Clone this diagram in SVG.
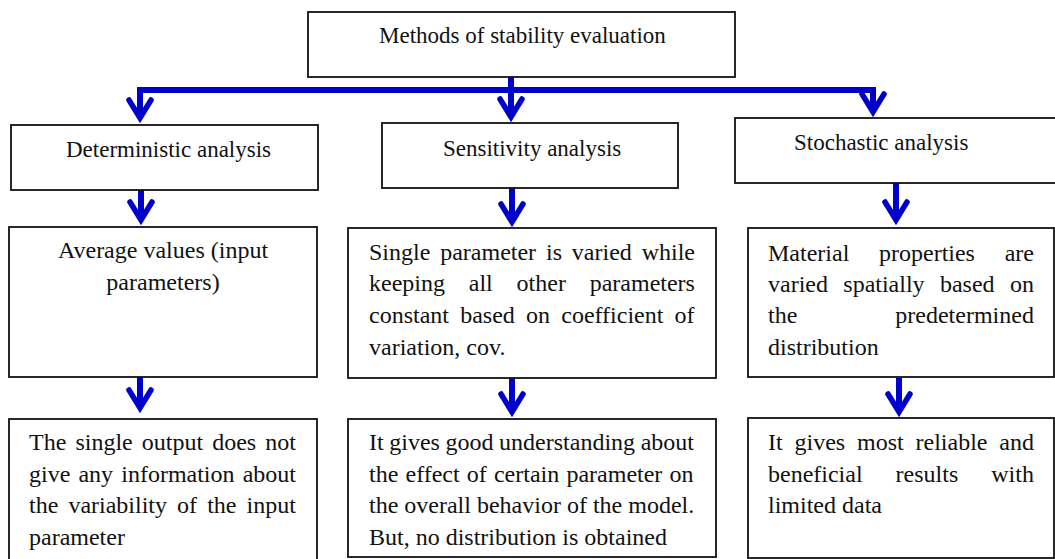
<svg xmlns="http://www.w3.org/2000/svg" width="1055" height="559" viewBox="0 0 1055 559">
<style>
.box{fill:#fff;stroke:#111;stroke-width:1.8}
.t{font-family:"Liberation Serif","Times New Roman",serif;font-size:24px;fill:#111;font-variant-ligatures:none}
.h{font-size:23px}
.c{fill:none;stroke:#0000cc;stroke-width:6;stroke-linejoin:miter}
</style>
<defs>
<marker id="ah" markerUnits="userSpaceOnUse" orient="auto" refX="0" refY="0" markerWidth="40" markerHeight="40" overflow="visible">
<path d="M-18,-11 L0,0 L-18,11" fill="none" stroke="#0000cc" stroke-width="5.5" stroke-linecap="round" stroke-linejoin="miter"/>
</marker>
</defs>
<rect width="1055" height="559" fill="#fff"/>
<g id="connectors">
<path class="c" d="M511,77 V117" marker-end="url(#ah)"/>
<path class="c" d="M511,90 H140 V118" marker-end="url(#ah)"/>
<path class="c" d="M511,90 H873 V112" marker-end="url(#ah)"/>
<path class="c" d="M141,190 V220" marker-end="url(#ah)"/>
<path class="c" d="M512,188 V222" marker-end="url(#ah)"/>
<path class="c" d="M896,183 V220" marker-end="url(#ah)"/>
<path class="c" d="M140,377 V408" marker-end="url(#ah)"/>
<path class="c" d="M512,378 V412" marker-end="url(#ah)"/>
<path class="c" d="M899,378 V412" marker-end="url(#ah)"/>
</g>
<g id="root">
<rect class="box" x="308" y="12" width="427" height="65"/>
<text class="t h" x="379" y="43">Methods of stability evaluation</text>
</g>
<g id="deterministic">
<rect class="box" x="11" y="125" width="307" height="65"/>
<text class="t h" x="66" y="157">Deterministic analysis</text>
</g>
<g id="sensitivity">
<rect class="box" x="382" y="123" width="296" height="65"/>
<text class="t h" x="443" y="156">Sensitivity analysis</text>
</g>
<g id="stochastic">
<rect class="box" x="735" y="118" width="330" height="65"/>
<text class="t h" x="794" y="150">Stochastic analysis</text>
</g>
<g id="det-input">
<rect class="box" x="9" y="227" width="308" height="150"/>
<text class="t" text-anchor="middle"><tspan x="163" y="258">Average values (input</tspan><tspan x="163" y="290">parameters)</tspan></text>
</g>
<g id="sens-input">
<rect class="box" x="348" y="228" width="368" height="150"/>
<text class="t"><tspan x="369" y="260" word-spacing="3.85">Single parameter is varied while</tspan><tspan x="369" y="291" word-spacing="17.8">keeping all other parameters</tspan><tspan x="369" y="323" word-spacing="5.2">constant based on coefficient of</tspan><tspan x="369" y="355">variation, cov.</tspan></text>
</g>
<g id="stoch-input">
<rect class="box" x="748" y="228" width="306" height="149"/>
<text class="t"><tspan x="768" y="261" word-spacing="23.7">Material properties are</tspan><tspan x="768" y="292" word-spacing="9.33">varied spatially based on</tspan><tspan x="768" y="323" word-spacing="92">the predetermined</tspan><tspan x="768" y="355">distribution</tspan></text>
</g>
<g id="det-output">
<rect class="box" x="9" y="419" width="308" height="145"/>
<text class="t"><tspan x="29" y="450" word-spacing="3.08">The single output does not</tspan><tspan x="29" y="482" word-spacing="2.13">give any information about</tspan><tspan x="29" y="513" word-spacing="4.08">the variability of the input</tspan><tspan x="29" y="545">parameter</tspan></text>
</g>
<g id="sens-output">
<rect class="box" x="348" y="419" width="368" height="138"/>
<text class="t"><tspan x="369" y="450" word-spacing="-0.4">It gives good understanding about</tspan><tspan x="369" y="482" word-spacing="1.16">the effect of certain parameter on</tspan><tspan x="369" y="513">the overall behavior of the model.</tspan><tspan x="369" y="545">But, no distribution is obtained</tspan></text>
</g>
<g id="stoch-output">
<rect class="box" x="748" y="418" width="306" height="140"/>
<text class="t"><tspan x="768" y="450" word-spacing="5.85">It gives most reliable and</tspan><tspan x="768" y="482" word-spacing="27">beneficial results with</tspan><tspan x="768" y="513">limited data</tspan></text>
</g>
</svg>
